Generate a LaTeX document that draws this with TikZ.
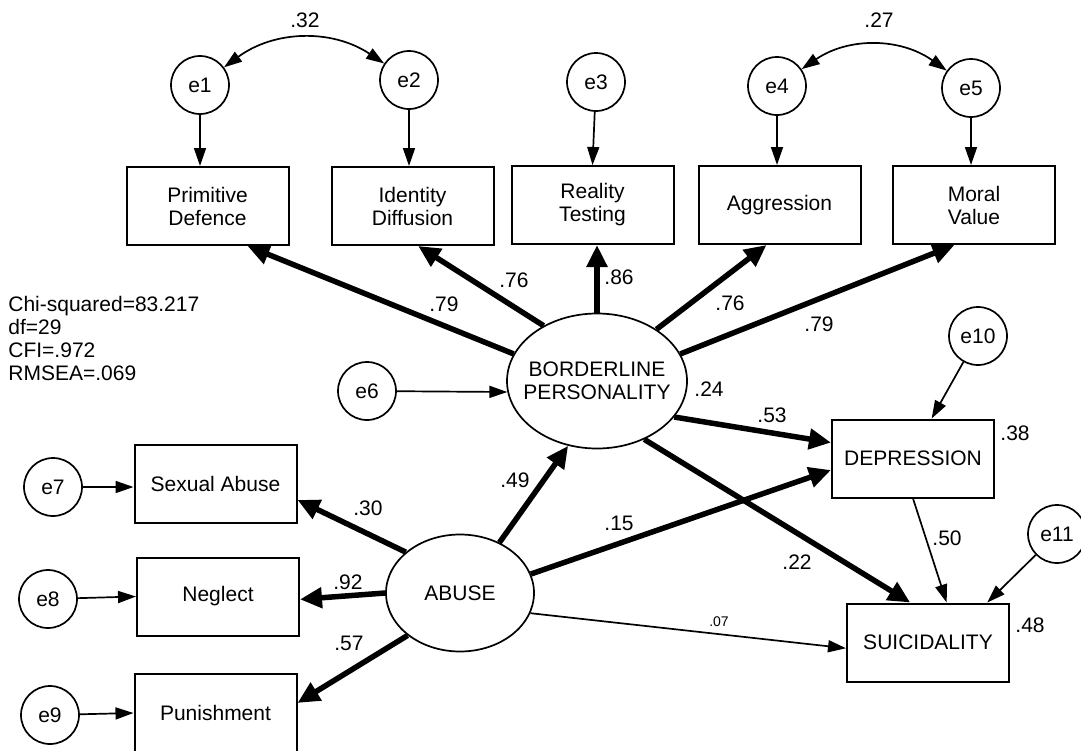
\documentclass[tikz,border=0pt]{standalone}
\usepackage{fontspec}
\setmainfont{Liberation Sans}
\usetikzlibrary{arrows.meta,shapes.geometric}

\begin{document}
\begin{tikzpicture}[x=0.5pt,y=-0.5pt,
  font=\fontsize{10.5}{11.5}\selectfont,
  obs/.style={draw,line width=1pt,minimum width=81pt,minimum height=39pt,inner sep=0pt,align=center},
  err/.style={draw,circle,line width=0.85pt,minimum size=29pt,inner sep=0pt},
  lat/.style={draw,ellipse,line width=0.85pt,inner sep=-8pt,align=center},
  fat/.style={line width=2.75pt,-{Triangle[length=11pt,width=10pt]}},
  lnk/.style={line width=0.85pt,-{Triangle[length=9pt,width=6pt]}},
  cov/.style={line width=0.85pt,{Triangle[length=9pt,width=6pt]}-{Triangle[length=9pt,width=6pt]}},
  coef/.style={inner sep=0pt}]
  \useasboundingbox (0,0) rectangle (1081,750);

  % indicators of borderline personality
  \node[err] (e1) at (200,85) {e1};
  \node[err] (e2) at (409,80) {e2};
  \node[err] (e3) at (596,82) {e3};
  \node[err] (e4) at (777,86) {e4};
  \node[err] (e5) at (971,88) {e5};
  \node[obs] (PD) at (207.5,206) {Primitive\\Defence};
  \node[obs] (ID) at (412.5,206) {Identity\\Diffusion};
  \node[obs] (RT) at (592.5,205) {Reality\\Testing};
  \node[obs] (AG) at (779.5,205) {Aggression};
  \node[obs] (MV) at (974,205) {Moral\\Value};

  % latent variables
  \node[lat,minimum width=90pt,minimum height=67.5pt] (BP) at (597,381) {BORDERLINE\\PERSONALITY};
  \node[lat,minimum width=74pt,minimum height=58.5pt] (AB) at (460,593) {ABUSE};
  \node[err] (e6) at (367,391) {e6};

  % indicators of abuse
  \node[obs] (SA) at (215.5,484) {Sexual Abuse};
  \node[obs] (NG) at (218,596.5) {Neglect};
  \node[obs] (PU) at (215.5,713) {Punishment};
  \node[err] (e7) at (53,487) {e7};
  \node[err] (e8) at (48,599) {e8};
  \node[err] (e9) at (50,715) {e9};

  % outcomes
  \node[obs] (DEP) at (913,458.5) {DEPRESSION};
  \node[obs] (SUI) at (928,642.5) {SUICIDALITY};
  \node[err] (e10) at (978,336) {e10};
  \node[err] (e11) at (1057,534) {e11};

  % fit
  \node[anchor=north west,inner sep=0pt,align=left] (fit) at (8,296)
    {Chi-squared=83.217\\df=29\\CFI=.972\\RMSEA=.069};

  % error paths
  \draw[lnk] (e1) -- (e1 |- PD.north);
  \draw[lnk] (e2) -- (e2 |- ID.north);
  \draw[lnk] (e3) -- (RT.north);
  \draw[lnk] (e4) -- (e4 |- AG.north);
  \draw[lnk] (e5) -- (e5 |- MV.north);
  \draw[lnk] (e6) -- (BP.187);
  \draw[lnk] (e7) -- (e7 -| SA.west);
  \draw[lnk] (e8) -- (NG.west);
  \draw[lnk] (e9) -- (PU.west);
  \draw[lnk] (e10) -- (DEP.65);
  \draw[lnk] (e11) -- (SUI.34.5);
  \draw[cov] (e1) to[bend left=35] (e2);
  \draw[cov] (e4) to[bend left=35] (e5);

  % loadings
  \draw[fat] (BP.162) -- (PD.-45);
  \draw[fat] (BP.134.5) -- (ID.-82);
  \draw[fat] (BP.north) -- (BP.north |- RT.south);
  \draw[fat] (BP.41.5) -- (AG.-108);
  \draw[fat] (BP.18) -- (MV.-116.6);
  \draw[fat] (AB.143) -- (SA.-11);
  \draw[fat] (AB.west) -- (NG.-2.5);
  \draw[fat] (AB.-141.6) -- (PU.7.7);

  % structural paths
  \draw[fat] (AB.52) -- (BP.-114);
  \draw[fat] (BP.-25) -- (DEP.169);
  \draw[fat] (BP.-51) -- (SUI.114.5);
  \draw[fat] (AB.15) -- (DEP.-172);
  \draw[lnk] (AB.-16) -- (SUI.-176);
  \draw[lnk] (DEP.south) -- (SUI.65);

  % estimates
  \node[coef] (c1) at (305,20) {.32};
  \node[coef] (c2) at (879,20) {.27};
  \node[coef] (c3) at (444,304) {.79};
  \node[coef] (c4) at (514,280) {.76};
  \node[coef] (c5) at (619,277) {.86};
  \node[coef] (c6) at (730,303) {.76};
  \node[coef] (c7) at (819,324) {.79};
  \node[coef] (c8) at (709,389) {.24};
  \node[coef] (c9) at (772,415) {.53};
  \node[coef] (c10) at (1015,433) {.38};
  \node[coef] (c11) at (515,480) {.49};
  \node[coef] (c12) at (368,508) {.30};
  \node[coef] (c13) at (348,582) {.92};
  \node[coef] (c14) at (349,643) {.57};
  \node[coef] (c15) at (619,523) {.15};
  \node[coef] (c16) at (797,562) {.22};
  \node[coef] (c17) at (947,538) {.50};
  \node[coef,font=\fontsize{7}{8}\selectfont] (c18) at (719,622) {.07};
  \node[coef] (c19) at (1030,625) {.48};
\end{tikzpicture}
\end{document}
